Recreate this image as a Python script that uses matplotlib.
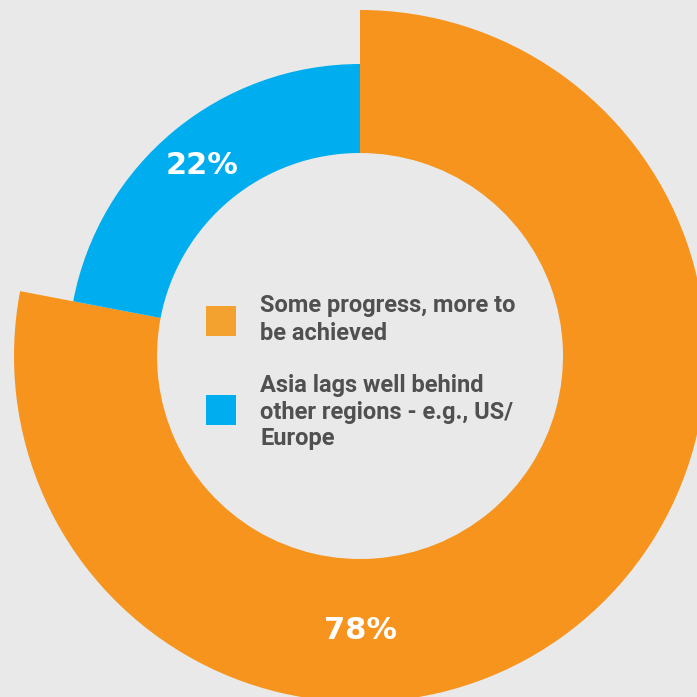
import matplotlib
matplotlib.use("Agg")
import matplotlib.pyplot as plt
import numpy as np
from matplotlib.patches import Wedge, Rectangle

# survey shares (percent), drawn clockwise from 12 o'clock
labels = [["Some progress, more to", "be achieved"],
          ["Asia lags well behind", "other regions - e.g., US/", "Europe"]]
shares = [78, 22]
pct_text = ["78%", "22%"]
colors = ["#F7941D", "#00AEEF"]
legend_colors = ["#F3A22F", "#00AEEF"]

BG = "#E9E9E9"
TEXT = "#505050"

# geometry in pixels, centre of the ring at the origin
inner_r = 203
outer_r = [346, 292]

fig = plt.figure(figsize=(6.97, 6.97), dpi=100)
fig.patch.set_facecolor(BG)
ax = fig.add_axes([0, 0, 1, 1])
ax.set_facecolor(BG)
ax.set_xlim(-360, 337)
ax.set_ylim(-341, 356)
ax.set_aspect("equal")
ax.axis("off")

total = sum(shares)
start = 90.0
for i, (val, col) in enumerate(zip(shares, colors)):
    sweep = 360.0 * val / total
    if i == 0:
        # first slice runs clockwise from the top
        t1, t2 = start - sweep, start
    else:
        t1, t2 = start, start + sweep
    ax.add_patch(Wedge((0, 0), outer_r[i], t1, t2,
                       width=outer_r[i] - inner_r, facecolor=col,
                       edgecolor="none"))

# percentage labels sit in the middle of each ring
pct_style = dict(color="white", fontsize=22, fontweight="bold",
                 ha="center", va="center", family="DejaVu Sans")
mid_big = (inner_r + outer_r[0]) / 2
ax.text(0, -mid_big, pct_text[0], **pct_style)
blue_mid = np.deg2rad(90 + 360.0 * shares[1] / total / 2)
mid_small = (inner_r + outer_r[1]) / 2
ax.text(mid_small * np.cos(blue_mid), mid_small * np.sin(blue_mid),
        pct_text[1], **pct_style)

# legend inside the hole, one line of text at a time
box_y = [20, -69]
first_baseline = [44, -36]
line_step = [28, 26.5]
for lines, col, by, ty, step in zip(labels, legend_colors, box_y,
                                    first_baseline, line_step):
    ax.add_patch(Rectangle((-154, by), 30, 30, facecolor=col,
                           edgecolor="none"))
    for k, line in enumerate(lines):
        ax.text(-100, ty - k * step, line, color=TEXT, fontsize=17,
                fontweight="bold", ha="left", va="baseline",
                family="Roboto")

fig.savefig("out.png", dpi=100, facecolor=BG)
